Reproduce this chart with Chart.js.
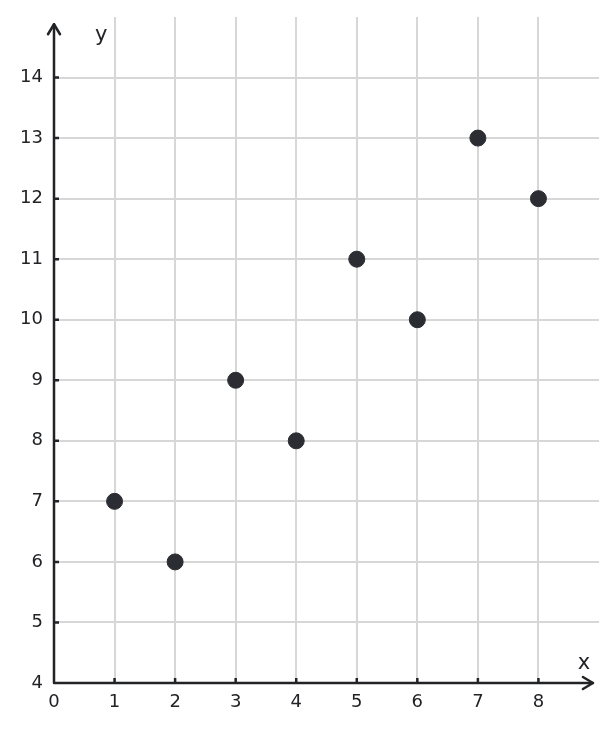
<!DOCTYPE html>
<html lang="en">
<head>
    <meta charset="UTF-8">
    <title>Scatter</title>
    <script src="https://cdn.jsdelivr.net/npm/chart.js"></script>
    <style>
        html, body { margin: 0; padding: 0; background: #ffffff; }
        #wrap { width: 616px; height: 731px; }
    </style>
</head>
<body>
    <div id="wrap"><canvas id="chart" width="616" height="731"></canvas></div>

    <script>
        const xValues = [1, 2, 3, 4, 5, 6, 7, 8];
        const yValues = [7, 6, 9, 8, 11, 10, 13, 12];
        const xTicks = [0, 1, 2, 3, 4, 5, 6, 7, 8];
        const yTicks = [4, 5, 6, 7, 8, 9, 10, 11, 12, 13, 14];

        const ink = '#222326';
        const gridColor = '#d7d7d7';
        const font = { family: 'DejaVu Sans', size: 18 };

        // axis lines with arrowheads, inner tick marks and axis names
        const axesPlugin = {
            id: 'arrowAxes',
            afterDatasetsDraw(chart) {
                const { ctx, scales: { x, y } } = chart;
                const x0 = x.getPixelForValue(0);
                const y0 = y.getPixelForValue(4);
                const xEnd = x.getPixelForValue(8.9);
                const yEnd = y.getPixelForValue(14.88);
                ctx.save();
                ctx.strokeStyle = ink;
                ctx.lineWidth = 2.5;
                ctx.lineCap = 'round';
                ctx.lineJoin = 'round';

                ctx.beginPath();
                ctx.moveTo(x0, yEnd);
                ctx.lineTo(x0, y0);
                ctx.lineTo(xEnd, y0);
                ctx.stroke();

                ctx.beginPath();
                ctx.moveTo(x0 - 6, yEnd + 10);
                ctx.lineTo(x0, yEnd);
                ctx.lineTo(x0 + 6, yEnd + 10);
                ctx.moveTo(xEnd - 10, y0 - 6);
                ctx.lineTo(xEnd, y0);
                ctx.lineTo(xEnd - 10, y0 + 6);
                ctx.stroke();

                ctx.lineCap = 'butt';
                ctx.beginPath();
                xTicks.slice(1).forEach(v => {
                    const px = x.getPixelForValue(v);
                    ctx.moveTo(px, y0);
                    ctx.lineTo(px, y0 - 5);
                });
                yTicks.slice(1).forEach(v => {
                    const py = y.getPixelForValue(v);
                    ctx.moveTo(x0, py);
                    ctx.lineTo(x0 + 5, py);
                });
                ctx.stroke();

                ctx.fillStyle = ink;
                ctx.font = '21px "DejaVu Sans"';
                ctx.textAlign = 'center';
                ctx.textBaseline = 'alphabetic';
                ctx.fillText('x', x.getPixelForValue(8.75), y0 - 14);
                ctx.fillText('y', x.getPixelForValue(0.78), y.getPixelForValue(14.6));
                ctx.restore();
            }
        };

        window.onload = () => {
            const ctx = document.getElementById('chart').getContext('2d');
            new Chart(ctx, {
                type: 'scatter',
                data: {
                    datasets: [{
                        data: xValues.map((v, i) => ({ x: v, y: yValues[i] })),
                        backgroundColor: '#2b2d33',
                        borderColor: '#2b2d33',
                        pointRadius: 8,
                        pointHoverRadius: 8
                    }]
                },
                options: {
                    responsive: false,
                    animation: false,
                    devicePixelRatio: 1,
                    layout: { padding: { top: 17, right: 17, left: 0, bottom: 0 } },
                    plugins: { legend: { display: false }, tooltip: { enabled: false } },
                    scales: {
                        x: {
                            type: 'linear',
                            min: 0,
                            max: 9,
                            afterBuildTicks: s => { s.ticks = xTicks.map(v => ({ value: v })); },
                            afterFit: s => { s.height = 48; s.paddingLeft = 0; s.paddingRight = 0; },
                            border: { display: false },
                            grid: {
                                color: c => (c.tick && c.tick.value > 0 ? gridColor : 'rgba(0,0,0,0)'),
                                lineWidth: 2,
                                drawTicks: false
                            },
                            ticks: { color: ink, font, padding: 9, maxRotation: 0 }
                        },
                        y: {
                            type: 'linear',
                            min: 4,
                            max: 15,
                            afterBuildTicks: s => { s.ticks = yTicks.map(v => ({ value: v })); },
                            afterFit: s => { s.width = 54; s.paddingTop = 0; s.paddingBottom = 0; },
                            border: { display: false },
                            grid: {
                                color: c => (c.tick && c.tick.value > 4 ? gridColor : 'rgba(0,0,0,0)'),
                                lineWidth: 2,
                                drawTicks: false
                            },
                            ticks: { color: ink, font, padding: 11 }
                        }
                    }
                },
                plugins: [axesPlugin]
            });
        };
    </script>
</body>
</html>
